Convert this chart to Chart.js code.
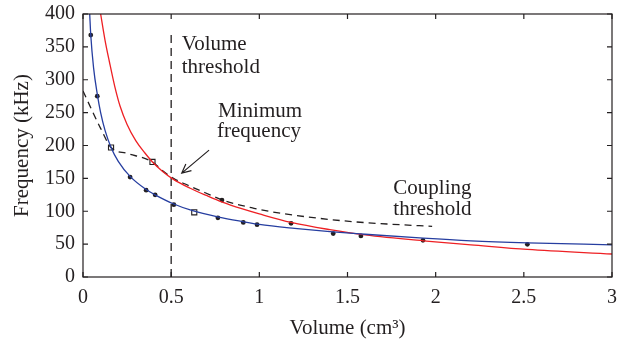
<!DOCTYPE html>
<html>
<head>
<meta charset="utf-8">
<script src="https://cdn.jsdelivr.net/npm/chart.js@4"></script>
<style>
  body { margin: 0; background: #fff; }
</style>
</head>
<body>
<canvas id="myChart" width="632" height="343"></canvas>
<script>
// values
const blueX = [0.038, 0.044, 0.06, 0.081, 0.1, 0.125, 0.159, 0.2, 0.267, 0.358, 0.409, 0.515, 0.608, 0.77, 0.91, 1.0, 1.2, 1.4, 1.6, 1.93, 2.2, 2.52, 3.0];
const blueY = [400, 368, 318, 278, 250, 223, 197, 176, 153, 133, 125, 111, 102, 91, 84, 80, 74, 69, 65, 59, 55, 52, 49];

const redX = [0.1, 0.125, 0.15, 0.18, 0.21, 0.25, 0.3, 0.35, 0.394, 0.45, 0.513, 0.608, 0.7, 0.79, 0.9, 1.0, 1.18, 1.4, 1.6, 1.93, 2.2, 2.52, 3.0];
const redY = [400, 360, 327, 290, 260, 232, 207, 189, 175, 161, 148.5, 135, 124, 114, 104, 96, 83, 72, 64, 55, 49, 42, 35];

const coupX = [0, 0.05, 0.1, 0.159, 0.25, 0.394, 0.45, 0.513, 0.6, 0.72, 0.79, 0.97, 1.12, 1.347, 1.536, 1.725, 1.98];
const coupY = [283, 254, 226, 197, 188, 175, 162, 150, 139, 125, 117, 104.5, 97, 89, 84, 80.6, 77];

const dotX = [0.044, 0.081, 0.267, 0.358, 0.409, 0.515, 0.765, 0.788, 0.909, 0.987, 1.18, 1.419, 1.576, 1.928, 2.52];
const dotY = [368, 275, 152, 132, 125, 110, 90, 117, 83, 79.6, 81.6, 66, 62.4, 55.8, 49.7];

const squareX = [0.159, 0.394, 0.631];
const squareY = [197, 175, 98.4];

const volThreshold = 0.5;
const volLineY = [0, 375];

const xTickLabels = ["0", "0.5", "1", "1.5", "2", "2.5", "3"];
const yTickLabels = ["0", "50", "100", "150", "200", "250", "300", "350", "400"];

function pts(xs, ys) {
  return xs.map((x, i) => ({ x: x, y: ys[i] }));
}

const FONT = "'Liberation Serif', 'Times New Roman', serif";
const INK = "#231f20";

// frame with inward ticks, like the original plot
const framePlugin = {
  id: "frame",
  afterDatasetsDraw(chart) {
    const { ctx, chartArea: a, scales } = chart;
    ctx.save();
    ctx.strokeStyle = INK;
    ctx.lineWidth = 1.2;
    ctx.strokeRect(a.left, a.top, a.right - a.left, a.bottom - a.top);
    ctx.beginPath();
    scales.x.ticks.forEach((t) => {
      const px = scales.x.getPixelForValue(t.value);
      ctx.moveTo(px, a.bottom); ctx.lineTo(px, a.bottom - 5);
      ctx.moveTo(px, a.top); ctx.lineTo(px, a.top + 5);
    });
    scales.y.ticks.forEach((t) => {
      const py = scales.y.getPixelForValue(t.value);
      ctx.moveTo(a.left, py); ctx.lineTo(a.left + 5, py);
      ctx.moveTo(a.right, py); ctx.lineTo(a.right - 5, py);
    });
    ctx.stroke();
    ctx.restore();
  }
};

// text labels and the arrow
const notes = [
  { text: "Volume", x: 0.56, y: 354 },
  { text: "threshold", x: 0.56, y: 319 },
  { text: "Minimum", x: 0.766, y: 251 },
  { text: "frequency", x: 0.76, y: 222 },
  { text: "Coupling", x: 1.76, y: 134 },
  { text: "threshold", x: 1.76, y: 103 }
];
const arrow = { x1: 0.715, y1: 193, x2: 0.56, y2: 158 };

const notePlugin = {
  id: "notes",
  afterDraw(chart) {
    const { ctx, scales: { x, y } } = chart;
    ctx.save();
    ctx.fillStyle = INK;
    ctx.font = "21px " + FONT;
    ctx.textAlign = "left";
    ctx.textBaseline = "middle";
    notes.forEach((n) => {
      ctx.fillText(n.text, x.getPixelForValue(n.x), y.getPixelForValue(n.y));
    });
    const x1 = x.getPixelForValue(arrow.x1), y1 = y.getPixelForValue(arrow.y1);
    const x2 = x.getPixelForValue(arrow.x2), y2 = y.getPixelForValue(arrow.y2);
    const ang = Math.atan2(y2 - y1, x2 - x1);
    ctx.strokeStyle = INK;
    ctx.lineWidth = 1.2;
    ctx.beginPath();
    ctx.moveTo(x1, y1); ctx.lineTo(x2, y2);
    ctx.moveTo(x2 - 10 * Math.cos(ang - 0.45), y2 - 10 * Math.sin(ang - 0.45));
    ctx.lineTo(x2, y2);
    ctx.lineTo(x2 - 10 * Math.cos(ang + 0.45), y2 - 10 * Math.sin(ang + 0.45));
    ctx.stroke();
    ctx.restore();
  }
};

document.addEventListener("DOMContentLoaded", function () {
  const cha = document.getElementById("myChart").getContext("2d");

  const line = {
    showLine: true,
    pointRadius: 0,
    borderWidth: 1.3,
    cubicInterpolationMode: "monotone",
    fill: false
  };

  const data = {
    datasets: [
      Object.assign({ label: "Blue fit", data: pts(blueX, blueY), borderColor: "rgb(38,62,160)" }, line),
      Object.assign({ label: "Red fit", data: pts(redX, redY), borderColor: "rgb(238,32,36)" }, line),
      Object.assign({ label: "Coupling threshold", data: pts(coupX, coupY), borderColor: INK, borderDash: [7, 5] }, line),
      Object.assign({
        label: "Volume threshold",
        data: pts([volThreshold, volThreshold], volLineY),
        borderColor: INK,
        borderDash: [8, 5]
      }, line, { cubicInterpolationMode: "default", tension: 0 }),
      {
        label: "Measured",
        data: pts(dotX, dotY),
        showLine: false,
        pointRadius: 2.4,
        pointBackgroundColor: INK,
        pointBorderColor: INK,
        pointBorderWidth: 0
      },
      {
        label: "Squares",
        data: pts(squareX, squareY),
        showLine: false,
        pointStyle: "rect",
        pointRadius: 3.6,
        pointBackgroundColor: "#fff",
        pointBorderColor: INK,
        pointBorderWidth: 1.1
      }
    ]
  };

  const config = {
    type: "scatter",
    data,
    options: {
      responsive: false,
      animation: false,
      layout: { padding: { top: 14, right: 20, left: 0, bottom: 0 } },
      scales: {
        x: {
          type: "linear",
          min: 0,
          max: 3,
          grid: { display: false, drawTicks: false },
          border: { display: false },
          ticks: {
            stepSize: 0.5,
            padding: 9,
            color: INK,
            font: { family: FONT, size: 20 },
            callback: function (value, index) {
              return xTickLabels[index];
            }
          },
          title: {
            display: true,
            text: "Volume (cm³)",
            color: INK,
            font: { family: FONT, size: 21 },
            padding: { top: 0, bottom: 2 }
          },
          afterFit: function (scale) {
            scale.height = 66;
          }
        },
        y: {
          min: 0,
          max: 400,
          grid: { display: false, drawTicks: false },
          border: { display: false },
          ticks: {
            stepSize: 50,
            padding: 8,
            color: INK,
            font: { family: FONT, size: 20 },
            callback: function (value, index) {
              return yTickLabels[index];
            }
          },
          title: {
            display: true,
            text: "Frequency (kHz)",
            color: INK,
            font: { family: FONT, size: 21 },
            padding: { top: 10, bottom: 0 }
          },
          afterFit: function (scale) {
            scale.width = 83;
            scale.paddingTop = 0;
            scale.paddingBottom = 0;
          }
        }
      },
      plugins: {
        legend: { display: false },
        tooltip: { enabled: false }
      }
    },
    plugins: [framePlugin, notePlugin]
  };

  new Chart(cha, config);
});
</script>
</body>
</html>
